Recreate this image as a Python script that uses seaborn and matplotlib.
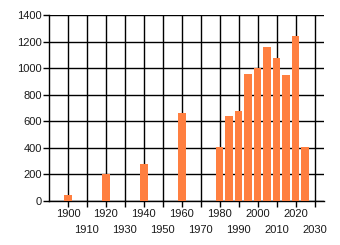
import matplotlib
matplotlib.use("Agg")
import matplotlib.pyplot as plt
import seaborn as sns
import pandas as pd

years = [1900, 1920, 1940, 1960, 1980, 1985, 1990, 1995, 2000, 2005, 2010, 2015, 2020, 2025]
values = [45, 206, 278, 662, 406, 640, 677, 956, 1001, 1159, 1076, 948, 1245, 406]
xticks_row1 = [1900, 1920, 1940, 1960, 1980, 2000, 2020]
xticks_row2 = [1910, 1930, 1950, 1970, 1990, 2010, 2030]
yticks = [0, 200, 400, 600, 800, 1000, 1200, 1400]

sns.set_theme(style="white")
plt.rcParams['font.family'] = ['Liberation Sans', 'DejaVu Sans']

fig = plt.figure(figsize=(3.4, 2.45), dpi=100)
ax = fig.add_axes([49/340, 1-201/245, (324-49)/340, (201-15)/245])

df = pd.DataFrame({"year": years, "value": values})
sns.barplot(data=df, x="year", y="value", native_scale=True, width=0.8,
            color="#FF7F40", saturation=1, ax=ax, zorder=3, edgecolor="none")

ax.set_xlim(1890, 2035)
ax.set_ylim(0, 1400)
ax.set_xticks(xticks_row1)
ax.set_xticklabels([str(t) for t in xticks_row1])
ax.set_xticks(xticks_row2, minor=True)
ax.set_xticklabels([str(t) for t in xticks_row2], minor=True)
ax.set_yticks(yticks)
ax.set_xlabel("")
ax.set_ylabel("")
ax.grid(True, which="both", axis="x", color="black", linewidth=1)
ax.grid(True, which="major", axis="y", color="black", linewidth=1)
ax.set_axisbelow(True)
for s in ["top", "right"]:
    ax.spines[s].set_visible(False)
for s in ["left", "bottom"]:
    ax.spines[s].set_color("black")
    ax.spines[s].set_linewidth(1)
ax.tick_params(axis="both", which="both", length=4, width=1, color="black",
               labelsize=8, labelcolor="#1a1a1a", pad=1, direction="out",
               bottom=True, left=True)
ax.tick_params(axis="x", which="major", pad=2)
ax.tick_params(axis="x", which="minor", pad=13)

fig.savefig("out.png", dpi=100)
